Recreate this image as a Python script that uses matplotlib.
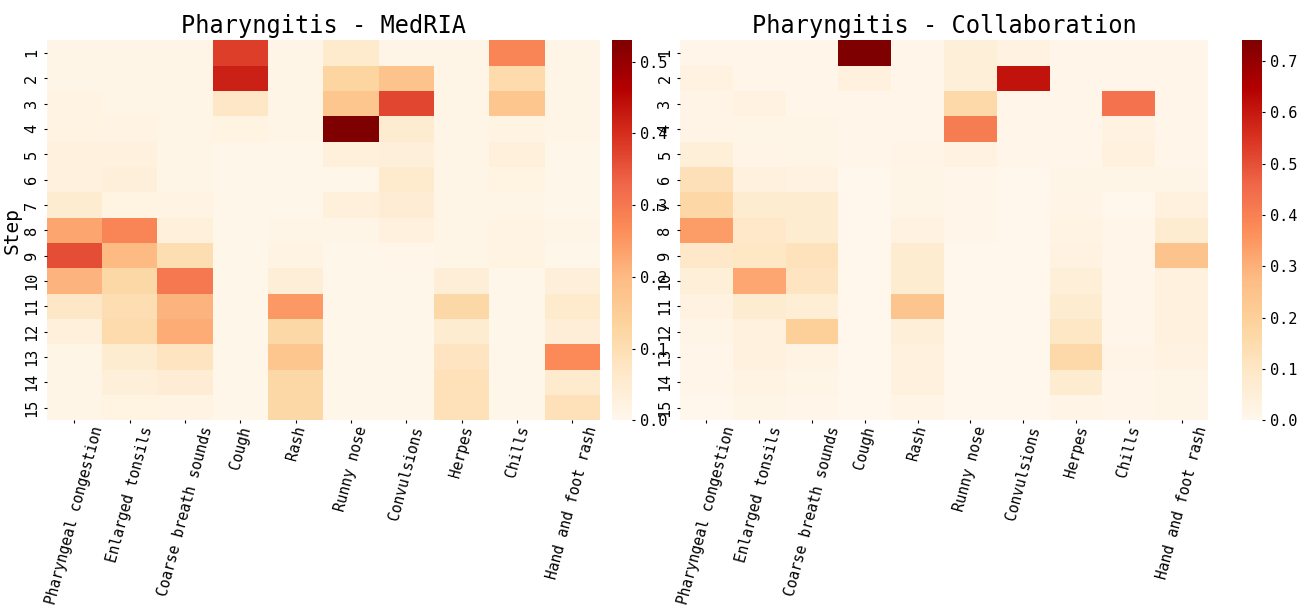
import numpy as np
import matplotlib
matplotlib.use("Agg")
import matplotlib.pyplot as plt
import seaborn as sns

symptoms = ["Pharyngeal congestion", "Enlarged tonsils", "Coarse breath sounds",
            "Cough", "Rash", "Runny nose", "Convulsions", "Herpes", "Chills",
            "Hand and foot rash"]
steps = [str(i) for i in range(1, 16)]

# attention weights per step (rows) and symptom (columns)
medria = [
    [0.010, 0.010, 0.010, 0.380, 0.010, 0.060, 0.010, 0.010, 0.280, 0.010],
    [0.010, 0.010, 0.010, 0.420, 0.010, 0.130, 0.180, 0.010, 0.110, 0.010],
    [0.015, 0.010, 0.010, 0.070, 0.010, 0.170, 0.370, 0.010, 0.170, 0.010],
    [0.020, 0.015, 0.010, 0.020, 0.010, 0.530, 0.050, 0.010, 0.020, 0.010],
    [0.025, 0.025, 0.010, 0.005, 0.005, 0.030, 0.035, 0.010, 0.030, 0.005],
    [0.025, 0.035, 0.010, 0.005, 0.005, 0.005, 0.060, 0.010, 0.020, 0.005],
    [0.050, 0.020, 0.015, 0.005, 0.005, 0.030, 0.045, 0.010, 0.010, 0.005],
    [0.230, 0.280, 0.030, 0.005, 0.010, 0.010, 0.025, 0.010, 0.015, 0.010],
    [0.360, 0.200, 0.100, 0.005, 0.015, 0.005, 0.008, 0.010, 0.020, 0.005],
    [0.210, 0.120, 0.300, 0.005, 0.040, 0.005, 0.005, 0.040, 0.005, 0.035],
    [0.070, 0.100, 0.210, 0.005, 0.250, 0.005, 0.005, 0.120, 0.005, 0.060],
    [0.030, 0.110, 0.220, 0.005, 0.120, 0.005, 0.005, 0.050, 0.005, 0.040],
    [0.010, 0.050, 0.080, 0.005, 0.170, 0.005, 0.005, 0.080, 0.005, 0.270],
    [0.010, 0.035, 0.045, 0.005, 0.120, 0.005, 0.005, 0.090, 0.005, 0.060],
    [0.010, 0.020, 0.015, 0.005, 0.120, 0.005, 0.005, 0.090, 0.005, 0.090],
]
collab = [
    [0.010, 0.010, 0.010, 0.740, 0.010, 0.050, 0.030, 0.010, 0.010, 0.010],
    [0.030, 0.010, 0.010, 0.040, 0.010, 0.050, 0.610, 0.010, 0.010, 0.010],
    [0.020, 0.030, 0.010, 0.010, 0.010, 0.160, 0.010, 0.010, 0.430, 0.010],
    [0.020, 0.015, 0.015, 0.010, 0.010, 0.410, 0.010, 0.010, 0.030, 0.010],
    [0.050, 0.020, 0.015, 0.010, 0.020, 0.030, 0.010, 0.010, 0.040, 0.010],
    [0.130, 0.040, 0.030, 0.005, 0.015, 0.010, 0.005, 0.015, 0.015, 0.015],
    [0.170, 0.070, 0.070, 0.005, 0.015, 0.010, 0.005, 0.020, 0.005, 0.040],
    [0.340, 0.090, 0.070, 0.005, 0.030, 0.010, 0.005, 0.025, 0.010, 0.070],
    [0.090, 0.100, 0.120, 0.005, 0.070, 0.005, 0.005, 0.030, 0.010, 0.250],
    [0.050, 0.320, 0.110, 0.005, 0.070, 0.005, 0.005, 0.050, 0.010, 0.040],
    [0.030, 0.070, 0.060, 0.005, 0.240, 0.005, 0.005, 0.070, 0.010, 0.040],
    [0.015, 0.040, 0.200, 0.005, 0.050, 0.005, 0.005, 0.100, 0.010, 0.040],
    [0.010, 0.040, 0.025, 0.005, 0.040, 0.005, 0.005, 0.160, 0.020, 0.030],
    [0.010, 0.025, 0.015, 0.005, 0.035, 0.005, 0.005, 0.070, 0.010, 0.015],
    [0.005, 0.015, 0.010, 0.005, 0.020, 0.005, 0.005, 0.020, 0.010, 0.015],
]

plt.rcParams["font.family"] = ["DejaVu Sans Mono"]

fig = plt.figure(figsize=(12.99, 6.10), dpi=100)
ax1 = fig.add_axes([0.036, 0.311, 0.426, 0.623])
cax1 = fig.add_axes([0.471, 0.311, 0.0155, 0.623])
ax2 = fig.add_axes([0.5235, 0.311, 0.4065, 0.623])
cax2 = fig.add_axes([0.956, 0.311, 0.0155, 0.623])

panels = [(ax1, cax1, medria, "Pharyngitis - MedRIA"),
          (ax2, cax2, collab, "Pharyngitis - Collaboration")]

for ax, cax, data, title in panels:
    sns.heatmap(np.array(data), ax=ax, cbar_ax=cax, cmap="OrRd", vmin=0,
                xticklabels=symptoms, yticklabels=steps)
    ax.set_title(title, fontsize=17, pad=5)
    ax.tick_params(axis="x", labelsize=10.5, rotation=75, length=2, pad=1)
    ax.tick_params(axis="y", labelsize=11, rotation=90, length=2)
    for lab in ax.get_yticklabels():
        lab.set_va("center")
    cax.tick_params(labelsize=11, length=2)

ax1.set_ylabel("Step", fontsize=14, labelpad=2)

fig.savefig("out.png", dpi=100)
